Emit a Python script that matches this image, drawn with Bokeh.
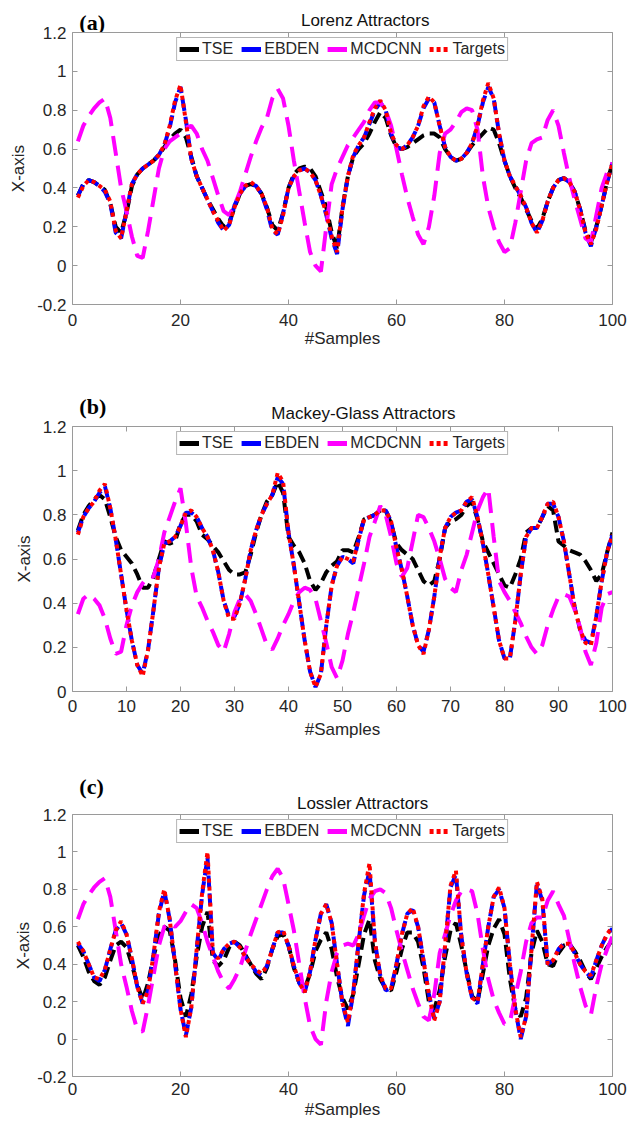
from bokeh.plotting import figure
from bokeh.layouts import column
from bokeh.models import LinearAxis, FixedTicker, CustomJSTickFormatter, Range1d
from bokeh.core.properties import value
from bokeh.embed import file_html
from bokeh.resources import INLINE

samples = list(range(1, 101))

# ---------------- (a) Lorenz ----------------
targets_a = [0.35, 0.41, 0.44, 0.43, 0.41, 0.39, 0.33, 0.18, 0.14, 0.28,
             0.42, 0.47, 0.50, 0.52, 0.54, 0.57, 0.62, 0.72, 0.85, 0.93,
             0.74, 0.55, 0.46, 0.40, 0.34, 0.28, 0.23, 0.18, 0.21, 0.30,
             0.37, 0.41, 0.43, 0.41, 0.37, 0.30, 0.19, 0.16, 0.26, 0.40,
             0.46, 0.49, 0.50, 0.48, 0.44, 0.36, 0.27, 0.15, 0.07, 0.30,
             0.46, 0.57, 0.62, 0.66, 0.74, 0.81, 0.85, 0.80, 0.68, 0.62,
             0.60, 0.62, 0.66, 0.72, 0.82, 0.87, 0.84, 0.72, 0.61, 0.56,
             0.54, 0.55, 0.58, 0.63, 0.72, 0.85, 0.94, 0.86, 0.68, 0.54,
             0.46, 0.41, 0.36, 0.30, 0.22, 0.17, 0.23, 0.33, 0.40, 0.44,
             0.45, 0.43, 0.38, 0.29, 0.17, 0.11, 0.19, 0.31, 0.43, 0.53]
ebden_a = [0.36, 0.42, 0.44, 0.43, 0.41, 0.38, 0.32, 0.17, 0.14, 0.28,
           0.42, 0.47, 0.50, 0.52, 0.54, 0.57, 0.62, 0.71, 0.84, 0.92,
           0.75, 0.55, 0.46, 0.40, 0.34, 0.28, 0.22, 0.18, 0.21, 0.31,
           0.37, 0.41, 0.42, 0.41, 0.37, 0.29, 0.18, 0.16, 0.27, 0.40,
           0.46, 0.49, 0.50, 0.48, 0.44, 0.36, 0.26, 0.14, 0.06, 0.29,
           0.46, 0.56, 0.62, 0.66, 0.73, 0.80, 0.84, 0.80, 0.68, 0.61,
           0.60, 0.62, 0.66, 0.72, 0.81, 0.86, 0.84, 0.72, 0.61, 0.56,
           0.54, 0.55, 0.58, 0.63, 0.72, 0.84, 0.92, 0.86, 0.68, 0.54,
           0.46, 0.41, 0.36, 0.30, 0.22, 0.17, 0.23, 0.33, 0.40, 0.44,
           0.45, 0.43, 0.38, 0.29, 0.17, 0.10, 0.20, 0.31, 0.43, 0.53]
tse_a = [0.36, 0.42, 0.44, 0.43, 0.41, 0.39, 0.32, 0.20, 0.17, 0.27,
         0.41, 0.47, 0.50, 0.52, 0.54, 0.57, 0.61, 0.65, 0.68, 0.70,
         0.66, 0.56, 0.46, 0.40, 0.34, 0.29, 0.24, 0.20, 0.22, 0.30,
         0.37, 0.41, 0.42, 0.41, 0.37, 0.30, 0.21, 0.18, 0.27, 0.40,
         0.47, 0.50, 0.51, 0.50, 0.46, 0.38, 0.30, 0.17, 0.09, 0.30,
         0.46, 0.56, 0.60, 0.63, 0.68, 0.74, 0.79, 0.76, 0.67, 0.61,
         0.60, 0.61, 0.63, 0.65, 0.67, 0.68, 0.68, 0.66, 0.60, 0.56,
         0.54, 0.55, 0.58, 0.62, 0.65, 0.68, 0.71, 0.70, 0.63, 0.54,
         0.46, 0.40, 0.35, 0.29, 0.23, 0.19, 0.24, 0.33, 0.40, 0.44,
         0.45, 0.43, 0.38, 0.29, 0.18, 0.12, 0.20, 0.31, 0.43, 0.53]
mcdcnn_a = [0.64, 0.72, 0.77, 0.81, 0.84, 0.86, 0.76, 0.58, 0.40, 0.28,
            0.15, 0.05, 0.04, 0.18, 0.34, 0.50, 0.60, 0.64, 0.66, 0.68,
            0.71, 0.72, 0.68, 0.60, 0.54, 0.45, 0.36, 0.28, 0.26, 0.31,
            0.38, 0.47, 0.56, 0.64, 0.71, 0.76, 0.86, 0.91, 0.86, 0.72,
            0.54, 0.38, 0.22, 0.07, 0.00, -0.03, 0.20, 0.42, 0.50, 0.56,
            0.62, 0.66, 0.70, 0.74, 0.80, 0.84, 0.84, 0.80, 0.72, 0.60,
            0.47, 0.35, 0.25, 0.16, 0.11, 0.20, 0.36, 0.58, 0.68, 0.70,
            0.74, 0.79, 0.81, 0.80, 0.70, 0.46, 0.30, 0.20, 0.12, 0.07,
            0.09, 0.22, 0.38, 0.54, 0.63, 0.65, 0.66, 0.75, 0.80, 0.72,
            0.58, 0.45, 0.34, 0.24, 0.14, 0.12, 0.26, 0.40, 0.48, 0.53]

# ---------------- (b) Mackey-Glass ----------------
targets_b = [0.71, 0.79, 0.83, 0.86, 0.91, 0.94, 0.83, 0.69, 0.53, 0.37,
             0.23, 0.12, 0.07, 0.19, 0.37, 0.56, 0.67, 0.68, 0.70, 0.75,
             0.81, 0.82, 0.79, 0.74, 0.70, 0.64, 0.54, 0.41, 0.33, 0.33,
             0.40, 0.51, 0.64, 0.73, 0.80, 0.85, 0.89, 0.99, 0.95, 0.72,
             0.57, 0.40, 0.23, 0.09, 0.02, 0.08, 0.30, 0.48, 0.57, 0.61,
             0.60, 0.59, 0.69, 0.78, 0.79, 0.80, 0.82, 0.82, 0.77, 0.65,
             0.55, 0.43, 0.30, 0.21, 0.17, 0.28, 0.43, 0.61, 0.74, 0.79,
             0.81, 0.82, 0.86, 0.88, 0.79, 0.67, 0.53, 0.38, 0.23, 0.15,
             0.15, 0.32, 0.53, 0.70, 0.74, 0.74, 0.79, 0.85, 0.86, 0.79,
             0.68, 0.53, 0.38, 0.28, 0.22, 0.21, 0.34, 0.50, 0.63, 0.71]
ebden_b = [0.72, 0.79, 0.83, 0.86, 0.90, 0.93, 0.83, 0.69, 0.53, 0.37,
           0.23, 0.12, 0.08, 0.19, 0.37, 0.56, 0.67, 0.68, 0.70, 0.75,
           0.81, 0.81, 0.79, 0.74, 0.70, 0.64, 0.54, 0.41, 0.34, 0.34,
           0.40, 0.51, 0.64, 0.73, 0.80, 0.85, 0.89, 0.97, 0.94, 0.72,
           0.57, 0.40, 0.23, 0.09, 0.02, 0.08, 0.30, 0.48, 0.57, 0.61,
           0.60, 0.58, 0.69, 0.78, 0.79, 0.80, 0.82, 0.82, 0.77, 0.65,
           0.55, 0.43, 0.30, 0.21, 0.18, 0.28, 0.43, 0.61, 0.74, 0.79,
           0.81, 0.82, 0.86, 0.87, 0.79, 0.67, 0.53, 0.38, 0.23, 0.15,
           0.15, 0.32, 0.53, 0.70, 0.74, 0.74, 0.79, 0.85, 0.85, 0.79,
           0.68, 0.53, 0.38, 0.28, 0.23, 0.22, 0.34, 0.50, 0.63, 0.71]
tse_b = [0.73, 0.80, 0.84, 0.87, 0.89, 0.87, 0.79, 0.70, 0.64, 0.61,
         0.58, 0.53, 0.47, 0.47, 0.52, 0.60, 0.68, 0.67, 0.68, 0.76,
         0.80, 0.80, 0.77, 0.71, 0.69, 0.66, 0.63, 0.59, 0.55, 0.53,
         0.53, 0.54, 0.62, 0.72, 0.80, 0.86, 0.89, 0.95, 0.90, 0.70,
         0.66, 0.63, 0.58, 0.50, 0.46, 0.49, 0.54, 0.57, 0.59, 0.64,
         0.64, 0.63, 0.70, 0.78, 0.79, 0.80, 0.82, 0.82, 0.76, 0.67,
         0.64, 0.62, 0.60, 0.55, 0.50, 0.48, 0.50, 0.60, 0.74, 0.77,
         0.78, 0.80, 0.84, 0.86, 0.78, 0.68, 0.63, 0.58, 0.53, 0.48,
         0.47, 0.53, 0.60, 0.72, 0.74, 0.74, 0.79, 0.84, 0.82, 0.68,
         0.66, 0.64, 0.63, 0.62, 0.59, 0.55, 0.50, 0.53, 0.63, 0.72]
mcdcnn_b = [0.35, 0.42, 0.44, 0.42, 0.39, 0.33, 0.24, 0.17, 0.18, 0.30,
            0.39, 0.45, 0.49, 0.52, 0.52, 0.60, 0.72, 0.79, 0.86, 0.92,
            0.76, 0.56, 0.43, 0.38, 0.32, 0.27, 0.21, 0.18, 0.26, 0.36,
            0.42, 0.44, 0.41, 0.35, 0.28, 0.21, 0.19, 0.24, 0.30, 0.35,
            0.41, 0.45, 0.47, 0.46, 0.42, 0.32, 0.22, 0.11, 0.06, 0.14,
            0.26, 0.36, 0.47, 0.58, 0.70, 0.77, 0.84, 0.80, 0.70, 0.58,
            0.52, 0.56, 0.68, 0.80, 0.79, 0.74, 0.68, 0.60, 0.51, 0.47,
            0.45, 0.55, 0.62, 0.72, 0.82, 0.88, 0.92, 0.70, 0.50, 0.45,
            0.41, 0.36, 0.31, 0.25, 0.20, 0.17, 0.21, 0.30, 0.37, 0.43,
            0.44, 0.43, 0.37, 0.29, 0.18, 0.12, 0.22, 0.38, 0.44, 0.45]

# ---------------- (c) Lossler ----------------
targets_c = [0.52, 0.47, 0.40, 0.33, 0.32, 0.37, 0.48, 0.58, 0.63, 0.56,
             0.43, 0.28, 0.19, 0.26, 0.45, 0.68, 0.80, 0.64, 0.40, 0.16,
             0.01, 0.17, 0.48, 0.78, 1.00, 0.46, 0.43, 0.48, 0.51, 0.52,
             0.49, 0.44, 0.40, 0.37, 0.35, 0.39, 0.48, 0.57, 0.58, 0.50,
             0.39, 0.30, 0.25, 0.36, 0.53, 0.67, 0.72, 0.62, 0.40, 0.19,
             0.09, 0.25, 0.52, 0.78, 0.94, 0.52, 0.34, 0.27, 0.27, 0.40,
             0.56, 0.67, 0.70, 0.60, 0.42, 0.24, 0.10, 0.20, 0.50, 0.82,
             0.90, 0.55, 0.35, 0.22, 0.20, 0.40, 0.60, 0.76, 0.81, 0.70,
             0.40, 0.16, 0.01, 0.12, 0.48, 0.84, 0.75, 0.40, 0.42, 0.48,
             0.51, 0.51, 0.46, 0.40, 0.36, 0.34, 0.42, 0.50, 0.56, 0.60]
ebden_c = [0.51, 0.47, 0.40, 0.33, 0.31, 0.37, 0.48, 0.58, 0.62, 0.56,
           0.43, 0.28, 0.19, 0.26, 0.45, 0.67, 0.79, 0.64, 0.40, 0.16,
           0.02, 0.17, 0.48, 0.77, 0.97, 0.46, 0.42, 0.48, 0.51, 0.52,
           0.49, 0.44, 0.40, 0.36, 0.34, 0.39, 0.48, 0.57, 0.57, 0.50,
           0.39, 0.30, 0.25, 0.36, 0.53, 0.67, 0.72, 0.62, 0.40, 0.19,
           0.07, 0.25, 0.52, 0.77, 0.90, 0.52, 0.34, 0.26, 0.27, 0.40,
           0.56, 0.67, 0.69, 0.60, 0.42, 0.24, 0.11, 0.20, 0.50, 0.81,
           0.88, 0.55, 0.35, 0.22, 0.19, 0.40, 0.60, 0.76, 0.80, 0.70,
           0.40, 0.16, 0.00, 0.12, 0.48, 0.83, 0.74, 0.40, 0.42, 0.48,
           0.51, 0.51, 0.46, 0.40, 0.36, 0.33, 0.42, 0.50, 0.56, 0.59]
tse_c = [0.50, 0.44, 0.36, 0.31, 0.29, 0.33, 0.42, 0.50, 0.52, 0.49,
         0.40, 0.29, 0.21, 0.30, 0.44, 0.55, 0.60, 0.58, 0.42, 0.22,
         0.12, 0.24, 0.44, 0.60, 0.68, 0.42, 0.39, 0.42, 0.49, 0.52,
         0.50, 0.45, 0.40, 0.35, 0.32, 0.38, 0.48, 0.55, 0.56, 0.50,
         0.38, 0.30, 0.27, 0.35, 0.47, 0.53, 0.57, 0.48, 0.33, 0.22,
         0.16, 0.24, 0.40, 0.56, 0.64, 0.42, 0.32, 0.27, 0.26, 0.36,
         0.48, 0.57, 0.57, 0.52, 0.38, 0.20, 0.16, 0.26, 0.44, 0.58,
         0.62, 0.50, 0.36, 0.23, 0.20, 0.35, 0.50, 0.59, 0.64, 0.56,
         0.32, 0.16, 0.12, 0.22, 0.46, 0.58, 0.52, 0.40, 0.39, 0.46,
         0.50, 0.51, 0.47, 0.42, 0.36, 0.32, 0.38, 0.44, 0.49, 0.53]
mcdcnn_c = [0.64, 0.72, 0.77, 0.81, 0.84, 0.86, 0.76, 0.58, 0.40, 0.28,
            0.15, 0.05, 0.04, 0.18, 0.34, 0.50, 0.60, 0.62, 0.60, 0.63,
            0.68, 0.72, 0.70, 0.62, 0.52, 0.44, 0.36, 0.30, 0.27, 0.32,
            0.38, 0.47, 0.56, 0.64, 0.72, 0.80, 0.87, 0.91, 0.86, 0.72,
            0.58, 0.40, 0.22, 0.07, 0.00, -0.03, 0.20, 0.36, 0.46, 0.50,
            0.51, 0.50, 0.56, 0.66, 0.75, 0.79, 0.80, 0.78, 0.70, 0.58,
            0.47, 0.37, 0.27, 0.19, 0.12, 0.10, 0.24, 0.46, 0.56, 0.66,
            0.74, 0.79, 0.80, 0.79, 0.67, 0.48, 0.32, 0.21, 0.14, 0.08,
            0.09, 0.23, 0.36, 0.52, 0.62, 0.65, 0.65, 0.74, 0.79, 0.72,
            0.66, 0.53, 0.40, 0.28, 0.18, 0.13, 0.28, 0.40, 0.48, 0.55]

series_names = ["TSE", "EBDEN", "MCDCNN", "Targets"]
series_colors = ["#000000", "#0000ff", "#ff00ff", "#ff0000"]
series_dash = ["12 6", "12 6", "20 10", "4 4"]
legend_dash = ["solid", "solid", "solid", "4 3"]

panel_tags = ["(a)", "(b)", "(c)"]
panel_titles = ["Lorenz Attractors", "Mackey-Glass Attractors", "Lossler Attractors"]

AX = "#9a9a9a"
TXT = "#262626"
FONT = "Liberation Sans"
W = 630
NAN = float("nan")
fmt_code = "return (Math.round(tick*10)/10).toString();"


def style_axis(ax, ticks, show, standoff=7):
    ax.ticker = FixedTicker(ticks=ticks, minor_ticks=[])
    ax.formatter = CustomJSTickFormatter(code=fmt_code)
    ax.major_tick_in = 5
    ax.major_tick_out = 0
    ax.minor_tick_line_color = None
    ax.axis_line_color = AX
    ax.major_tick_line_color = AX
    ax.major_label_text_font = FONT
    if show:
        ax.major_label_text_color = TXT
        ax.major_label_text_font_size = "17px"
        ax.major_label_standoff = standoff
        ax.axis_label_text_font = FONT
        ax.axis_label_text_font_size = "17px"
        ax.axis_label_text_font_style = "normal"
        ax.axis_label_text_color = TXT
    else:
        ax.major_label_text_color = None
        ax.major_label_text_font_size = "1px"
        ax.major_label_standoff = 0


def header(tag, title, height, tag_y, title_y, frame_l):
    h = figure(width=W, height=height, x_range=Range1d(0, W),
               y_range=Range1d(height, 0), output_backend="svg",
               toolbar_location=None, x_axis_type=None, y_axis_type=None,
               min_border=0)
    h.min_border_left = 0
    h.min_border_right = 0
    h.min_border_top = 0
    h.min_border_bottom = 0
    h.grid.visible = False
    h.outline_line_color = None
    h.background_fill_color = None
    h.border_fill_color = None
    h.text(x=[8], y=[tag_y], text=[tag], text_font=value("Liberation Serif"),
           text_font_style="bold", text_font_size="22px", text_align="left",
           text_baseline="middle", text_color="#000000")
    h.text(x=[(frame_l + 612) / 2], y=[title_y], text=[title],
           text_font=value(FONT), text_font_size="17px", text_align="center",
           text_baseline="middle", text_color="#111111")
    return h


def panel(ydata, ylo, yticks, xticks, height, overlap, bl, bb, xstand,
          ylab_stand, xlab_stand):
    p = figure(width=W, height=height, x_range=Range1d(0, 100),
               y_range=Range1d(ylo, 1.2), output_backend="svg",
               toolbar_location=None, min_border_left=bl,
               min_border_right=W - 612, min_border_top=10,
               min_border_bottom=bb, margin=(-overlap, 0, 0, 0))
    p.xgrid.visible = False
    p.ygrid.visible = False
    p.outline_line_color = None
    p.background_fill_color = "white"
    p.border_fill_color = None
    style_axis(p.xaxis[0], xticks, True, xstand)
    style_axis(p.yaxis[0], yticks, True, 6)
    p.xaxis[0].axis_label = "#Samples"
    p.xaxis[0].axis_label_standoff = xlab_stand
    p.yaxis[0].axis_label = "X-axis"
    p.yaxis[0].axis_label_standoff = ylab_stand
    top = LinearAxis()
    right = LinearAxis()
    style_axis(top, xticks, False)
    style_axis(right, yticks, False)
    p.add_layout(top, "above")
    p.add_layout(right, "right")

    for col, dash, ys in zip(series_colors, series_dash, ydata):
        p.line(samples, ys, line_color=col, line_width=4, line_dash=dash)
    # legend swatches (short solid / dotted like the original); no visible data
    for name, col, dash in zip(series_names, series_colors, legend_dash):
        p.line([NAN], [NAN], line_color=col, line_width=5, line_dash=dash,
               legend_label=name)

    lg = p.legend[0]
    lg.location = "top_center"
    lg.orientation = "horizontal"
    lg.margin = 5
    lg.padding = 2
    lg.spacing = 8
    lg.label_standoff = 3
    lg.glyph_width = 20
    lg.glyph_height = 18
    lg.label_height = 18
    lg.label_text_font = FONT
    lg.label_text_font_size = "16px"
    lg.label_text_color = TXT
    lg.border_line_color = "#6e6e6e"
    lg.border_line_width = 1
    lg.background_fill_color = "white"
    lg.background_fill_alpha = 1.0
    return p


yt14 = [-0.2, 0, 0.2, 0.4, 0.6, 0.8, 1.0, 1.2]
yt12 = [0, 0.2, 0.4, 0.6, 0.8, 1.0, 1.2]
xt20 = [0, 20, 40, 60, 80, 100]
xt10 = [0, 10, 20, 30, 40, 50, 60, 70, 80, 90, 100]

# header a: page 0-34, figure a starts at 22 (frame 32..304)
ha = header(panel_tags[0], panel_titles[0], 34, 22, 20, 72)
pa = panel([tse_a, ebden_a, mcdcnn_a, targets_a], -0.2, yt14, xt20,
           368, 12, 72, 86, 9, 6, 0)
# header b: page 390-430, figure b starts at 416 (frame 426..691)
hb = header(panel_tags[1], panel_titles[1], 40, 16, 23, 68)
pb = panel([tse_b, ebden_b, mcdcnn_b, targets_b], 0.0, yt12, xt10,
           354, 14, 68, 79, 8, 6, 5)
# header c: page 770-816, figure c starts at 804 (frame 814..1076)
hc = header(panel_tags[2], panel_titles[2], 46, 16, 33, 66)
pc = panel([tse_c, ebden_c, mcdcnn_c, targets_c], -0.2, yt14, xt20,
           319, 12, 66, 47, 6, 1, 2)

layout = column(ha, pa, hb, pb, hc, pc, spacing=0)
open("out.html", "w").write(file_html(layout, INLINE))
